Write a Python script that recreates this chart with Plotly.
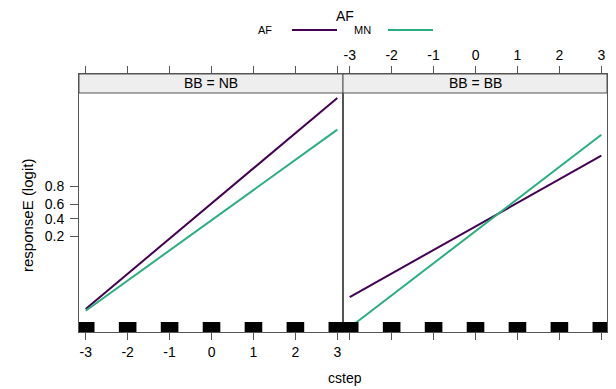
import numpy as np
import plotly.graph_objects as go

# ---- data ----
cstep = [-3, 3]
panels = ["BB = NB", "BB = BB"]
af_logit = {"BB = NB": [-5.42, 6.30], "BB = BB": [-4.76, 3.09]}
mn_logit = {"BB = NB": [-5.52, 4.54], "BB = BB": [-6.45, 4.26]}
rug_x = [-3, -2, -1, 0, 1, 2, 3]
prob_ticks = [0.2, 0.4, 0.6, 0.8]
x_ticks = [-3, -2, -1, 0, 1, 2, 3]

# ---- style ----
FONT = "Liberation Sans, Arial, sans-serif"
PURPLE = "#440154"
GREEN = "#29AF7F"
FRAME = "#555555"
XR = [-3.16, 3.135]
YR = [-6.7, 7.63]
OFF = 8  # page body margin
W, H = 616 - OFF, 389 - OFF
ML, MR, MT, MB = 79 - OFF, 9, 74 - OFF, 57
PW, PH = W - ML - MR, H - MT - MB
STRIP = 19 / PH
RUG_H = 10 / PH
RUG_HW = 0.21


def px2x(px):
    return (px - OFF - ML) / PW


def py2y(py):
    return (H - MB - (py - OFF)) / PH


fig = go.Figure()
for i, p in enumerate(panels):
    xa = "x" if i == 0 else "x2"
    ya = "y" if i == 0 else "y2"
    fig.add_trace(go.Scatter(x=cstep, y=af_logit[p], mode="lines", name="AF",
                             line=dict(color=PURPLE, width=2), xaxis=xa, yaxis=ya,
                             showlegend=False))
    fig.add_trace(go.Scatter(x=cstep, y=mn_logit[p], mode="lines", name="MN",
                             line=dict(color=GREEN, width=2), xaxis=xa, yaxis=ya,
                             showlegend=False))
    # strip
    fig.add_shape(type="rect", xref=f"{xa} domain", yref=f"{ya} domain",
                  x0=0, x1=1, y0=1 - STRIP, y1=1, fillcolor="#EEEEEE",
                  line=dict(color=FRAME, width=1), layer="above")
    fig.add_annotation(text=p, xref="paper", yref="paper",
                       x=0.25 + 0.5 * i, y=1 - STRIP / 2, showarrow=False,
                       font=dict(family=FONT, size=14, color="#000"),
                       xanchor="center", yanchor="middle")
    # rug
    for v in rug_x:
        fig.add_shape(type="rect", xref=xa, yref=f"{ya} domain",
                      x0=max(v - RUG_HW, XR[0]), x1=min(v + RUG_HW, XR[1]),
                      y0=0, y1=RUG_H, fillcolor="black", line=dict(width=0),
                      layer="above")

tv = [float(np.log(q / (1 - q))) for q in prob_ticks]
tt = [f"{q:.1f}" for q in prob_ticks]
axcommon = dict(range=XR, tickvals=x_ticks, ticktext=[str(t) for t in x_ticks],
                ticks="outside", ticklen=7, tickcolor=FRAME, showline=True,
                linecolor=FRAME, linewidth=1, mirror="ticks", showgrid=False,
                zeroline=False, automargin=False,
                tickfont=dict(family=FONT, size=14, color="#000"))
ycommon = dict(range=YR, tickvals=tv, ticktext=tt, ticks="outside", ticklen=8,
               tickcolor=FRAME, showline=True, linecolor=FRAME, linewidth=1,
               mirror=True, showgrid=False, zeroline=False, automargin=False,
               ticklabelstandoff=3,
               tickfont=dict(family=FONT, size=14, color="#000"))

fig.update_layout(
    width=W, height=H, margin=dict(l=ML, r=MR, t=MT, b=MB, autoexpand=False),
    plot_bgcolor="white", paper_bgcolor="white",
    xaxis=dict(domain=[0, 0.5], side="bottom", anchor="y", **axcommon),
    xaxis2=dict(domain=[0.5, 1], side="top", anchor="y2", **axcommon),
    yaxis=dict(domain=[0, 1], side="left", anchor="x", **ycommon),
    yaxis2=dict(domain=[0, 1], side="right", anchor="x2", showticklabels=False, **ycommon),
    showlegend=False,
)

# axis titles
fig.add_annotation(text="responseE (logit)", xref="paper", yref="paper",
                   x=px2x(27), y=py2y(216), textangle=-90,
                   showarrow=False, font=dict(family=FONT, size=15, color="#000"),
                   xanchor="center", yanchor="middle")
fig.add_annotation(text="cstep", xref="paper", yref="paper",
                   x=px2x(345), y=py2y(378), showarrow=False,
                   font=dict(family=FONT, size=14, color="#000"),
                   xanchor="center", yanchor="middle")

# key (legend) at top
fig.add_annotation(text="AF", xref="paper", yref="paper", x=px2x(345), y=py2y(16),
                   showarrow=False, font=dict(family=FONT, size=14, color="#000"),
                   xanchor="center", yanchor="middle", borderpad=0)
key = [("AF", PURPLE, 265, 292, 337), ("MN", GREEN, 362, 388, 433)]
for lab, col, cx, l0, l1 in key:
    fig.add_annotation(text=lab, xref="paper", yref="paper", x=px2x(cx), y=py2y(30),
                       showarrow=False, font=dict(family=FONT, size=11, color="#000"),
                       xanchor="center", yanchor="middle")
    fig.add_shape(type="line", xref="paper", yref="paper", x0=px2x(l0), x1=px2x(l1),
                  y0=py2y(30), y1=py2y(30), line=dict(color=col, width=2))

fig.write_html("out.html")
